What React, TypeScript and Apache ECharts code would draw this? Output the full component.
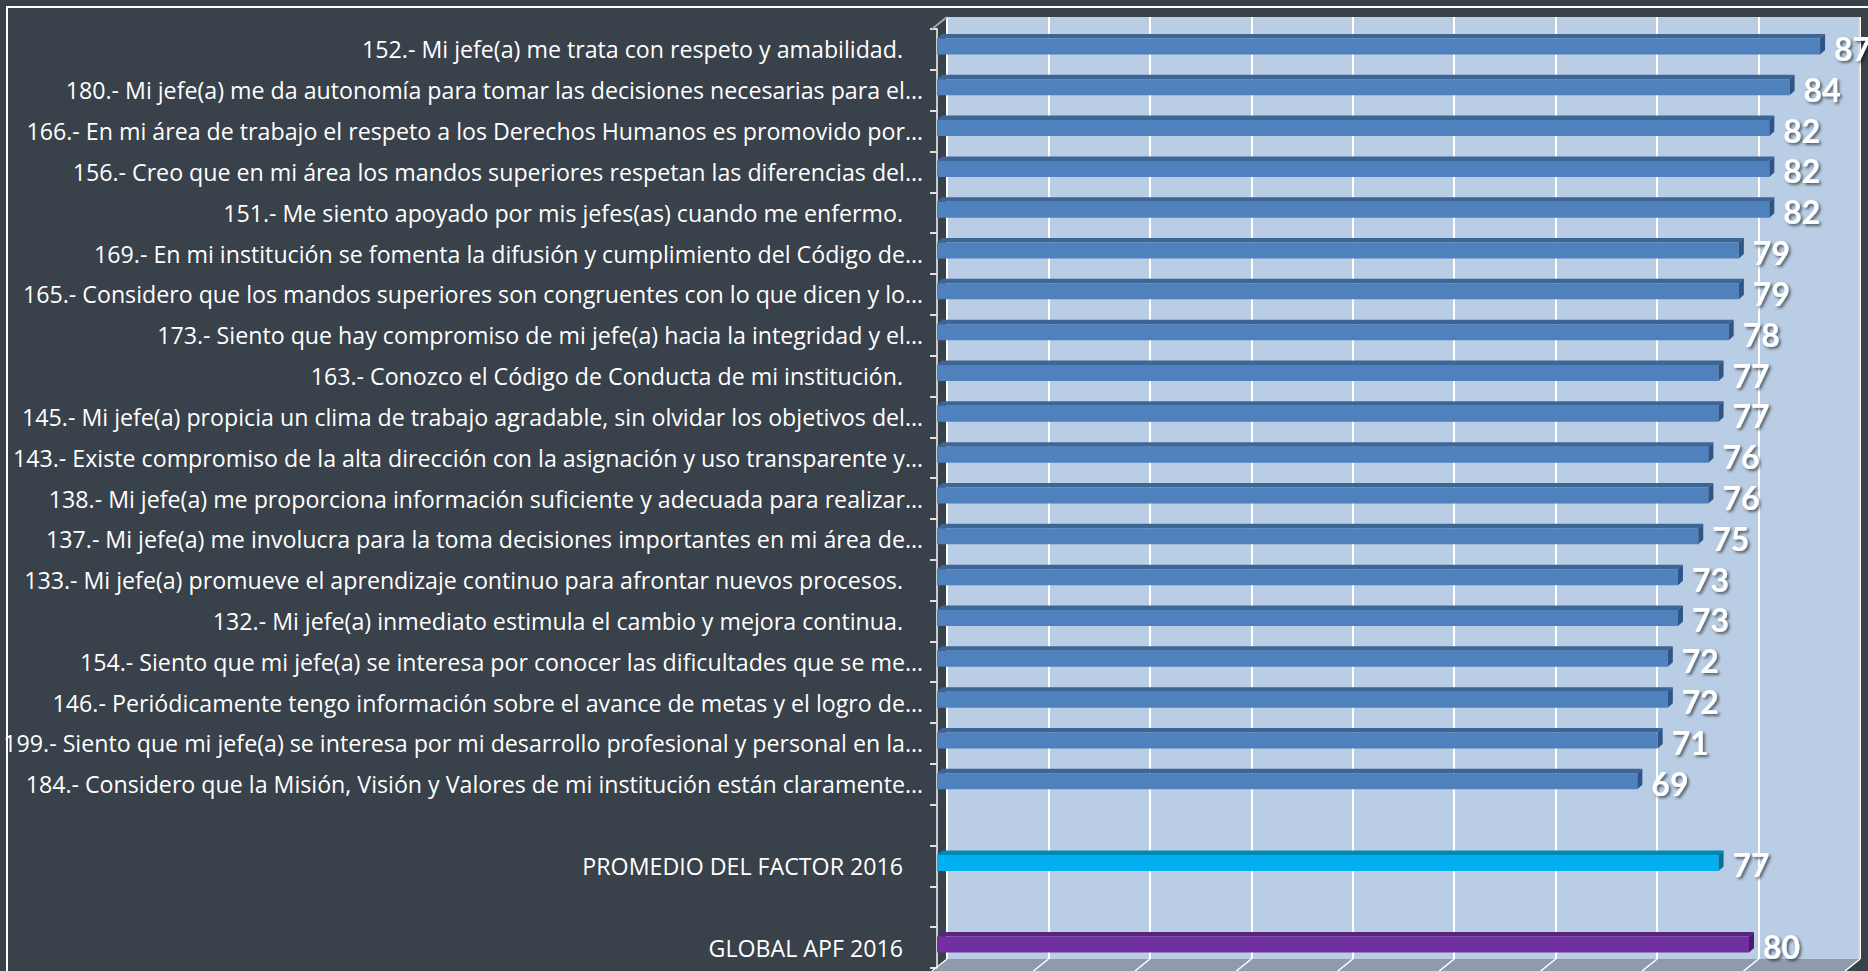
import React, { useEffect, useRef } from "react";
import * as echarts from "echarts";

const questionLabels: string[] = [
  "152.- Mi jefe(a) me trata con respeto y amabilidad.",
  "180.- Mi jefe(a) me da autonomía para tomar las decisiones necesarias para el…",
  "166.- En mi área de trabajo el respeto a los Derechos Humanos es promovido por…",
  "156.- Creo que en mi área los mandos superiores respetan las diferencias del…",
  "151.- Me siento apoyado por mis jefes(as) cuando me enfermo.",
  "169.- En mi institución se fomenta la difusión y cumplimiento del Código de…",
  "165.- Considero que los mandos superiores son congruentes con lo que dicen y lo…",
  "173.- Siento que hay compromiso de mi jefe(a) hacia la integridad y el…",
  "163.- Conozco el Código de Conducta de mi institución.",
  "145.- Mi jefe(a) propicia un clima de trabajo agradable, sin olvidar los objetivos del…",
  "143.- Existe compromiso de la alta dirección con la asignación y uso transparente y…",
  "138.- Mi jefe(a) me proporciona información suficiente y adecuada para realizar…",
  "137.- Mi jefe(a) me involucra para la toma decisiones importantes en mi área de…",
  "133.- Mi jefe(a) promueve el aprendizaje continuo para afrontar nuevos procesos.",
  "132.- Mi jefe(a) inmediato estimula el cambio y mejora continua.",
  "154.- Siento que mi jefe(a) se interesa por conocer las dificultades que se me…",
  "146.- Periódicamente tengo información sobre el avance de metas y el logro de…",
  "199.- Siento que mi jefe(a) se interesa por mi desarrollo profesional y personal en la…",
  "184.- Considero que la Misión, Visión y Valores de mi institución están claramente…",
];
const questionValues: number[] = [87, 84, 82, 82, 82, 79, 79, 78, 77, 77, 76, 76, 75, 73, 73, 72, 72, 71, 69];

const promedioLabel = "PROMEDIO DEL FACTOR 2016";
const promedioValue = 77;
const globalLabel = "GLOBAL APF 2016";
const globalValue = 80;

const categories: string[] = [...questionLabels, " ", promedioLabel, "  ", globalLabel];

const xTicks = { min: 0, max: 90, interval: 10 };

const BG = "#39414A";
const WALL = "#B9CDE4";
const FLOOR = "#8E9BAC";
const LABEL_FONT = "Open Sans";
const LABEL_SIZE = 23.2;

function makeRender(front: string, topC: string, side: string) {
  return (params: any, api: any) => {
    const v = api.value(0);
    const ci = api.value(1);
    const s = api.coord([0, ci]);
    const e = api.coord([v, ci]);
    const cy = e[1] - 3;
    const t = cy - 8;
    const b = cy + 8;
    const dx = 5;
    const dy = -4.5;
    return {
      type: "group",
      children: [
        {
          type: "polygon",
          shape: { points: [[s[0], t], [e[0], t], [e[0] + dx, t + dy], [s[0] + dx, t + dy]] },
          style: { fill: topC },
        },
        {
          type: "rect",
          shape: { x: s[0], y: t, width: e[0] - s[0], height: b - t },
          style: { fill: front },
        },
        {
          type: "polygon",
          shape: { points: [[e[0], t], [e[0] + dx, t + dy], [e[0] + dx, b + dy], [e[0], b]] },
          style: { fill: side },
        },
        {
          type: "text",
          x: e[0] + 14,
          y: e[1] - 1,
          style: {
            text: String(v),
            fill: "#FFFFFF",
            fontFamily: "Lato",
            fontWeight: "bold",
            fontSize: 32,
            verticalAlign: "middle",
            align: "left",
            textShadowColor: "rgba(0,0,0,0.55)",
            textShadowBlur: 3,
            textShadowOffsetX: 2,
            textShadowOffsetY: 2,
          },
        },
      ],
    };
  };
}

export default function App() {
  const ref = useRef<HTMLDivElement>(null);
  useEffect(() => {
    if (!ref.current) return;
    const chart = echarts.init(ref.current, undefined, { renderer: "svg" });

    const wallLeft = 947;
    const wallTop = 17;
    const wallW = 913;
    const wallBottom = 959;
    const step = wallW / 9;
    const floorLines: any[] = [];
    for (let k = 0; k <= 9; k++) {
      const bx = wallLeft + step * k;
      floorLines.push({
        type: "line",
        shape: { x1: bx, y1: wallBottom, x2: bx - 15, y2: wallBottom + 12 },
        style: { stroke: "#FFFFFF", lineWidth: 1.5 },
        z: 5,
      });
    }

    chart.setOption({
      animation: false,
      backgroundColor: BG,
      grid: [
        { left: 937, top: 29, width: 913.5, height: 939, containLabel: false, outerBoundsMode: "none" },
        {
          left: wallLeft, top: wallTop, width: wallW, height: wallBottom - wallTop,
          show: true, backgroundColor: WALL, borderWidth: 0, outerBoundsMode: "none",
        },
      ],
      xAxis: [
        {
          gridIndex: 0, type: "value", ...xTicks,
          axisLine: { show: false }, axisTick: { show: false }, axisLabel: { show: false }, splitLine: { show: false },
        },
        {
          gridIndex: 1, type: "value", ...xTicks,
          axisLine: { show: false }, axisTick: { show: false }, axisLabel: { show: false },
          splitLine: { show: true, lineStyle: { color: "#FFFFFF", width: 2 } },
        },
      ],
      yAxis: [
        {
          gridIndex: 0, type: "category", data: categories, inverse: true, offset: 5,
          axisLine: { show: true, lineStyle: { color: "#C8CCD0", width: 2 } },
          axisTick: { show: true, length: 7, lineStyle: { color: "#E0E0E0", width: 2 } },
          axisLabel: {
            margin: 9,
            color: "#FFFFFF",
            fontFamily: LABEL_FONT,
            fontSize: LABEL_SIZE,
            formatter: (val: string) => (val.endsWith("…") || val.trim() === "" ? val : "{full|" + val + "}"),
            rich: { full: { color: "#FFFFFF", fontFamily: LABEL_FONT, fontSize: LABEL_SIZE, padding: [0, 20, 0, 0] } },
          },
          splitLine: { show: false },
        },
        { gridIndex: 1, type: "value", show: false },
      ],
      graphic: [
        {
          type: "polygon",
          shape: { points: [[933, 972], [wallLeft, wallBottom], [wallLeft + wallW, wallBottom], [wallLeft + wallW - 15, 972]] },
          style: { fill: FLOOR },
          z: 4,
        },
        ...floorLines,
        {
          type: "line",
          shape: { x1: 932, y1: 29, x2: wallLeft, y2: wallTop },
          style: { stroke: "#A0A6AC", lineWidth: 2 },
          z: 5,
        },
        {
          type: "line",
          shape: { x1: wallLeft + wallW - 1, y1: wallTop, x2: wallLeft + wallW - 1, y2: wallBottom },
          style: { stroke: "#D0D6DC", lineWidth: 2 },
          z: 5,
        },
        {
          type: "rect",
          shape: { x: 7, y: 7, width: 1900, height: 1000 },
          style: { fill: "none", stroke: "#FFFFFF", lineWidth: 2 },
          z: 100,
        },
      ],
      series: [
        {
          type: "custom", xAxisIndex: 0, yAxisIndex: 0, z: 10,
          renderItem: makeRender("#4F81BD", "#3D6596", "#2F5486"),
          data: questionValues.map((v, i) => [v, questionLabels[i]]),
        },
        {
          type: "custom", xAxisIndex: 0, yAxisIndex: 0, z: 10,
          renderItem: makeRender("#00B0F0", "#0087B3", "#00739A"),
          data: [[promedioValue, promedioLabel]],
        },
        {
          type: "custom", xAxisIndex: 0, yAxisIndex: 0, z: 10,
          renderItem: makeRender("#7030A0", "#58237F", "#4A1D6C"),
          data: [[globalValue, globalLabel]],
        },
      ],
    });
    return () => chart.dispose();
  }, []);
  return <div ref={ref} style={{ position: "absolute", left: 0, top: 0, width: 1868, height: 971 }} />;
}
